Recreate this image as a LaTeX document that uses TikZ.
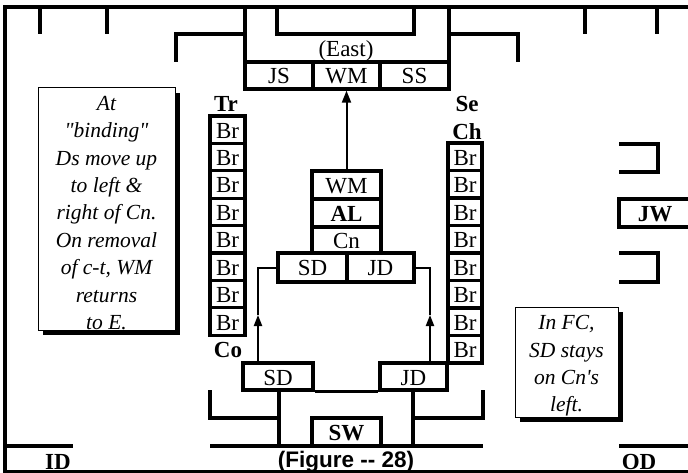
\documentclass[tikz,border=0pt]{standalone}
\usepackage{fontspec}
\setmainfont{Liberation Serif}[Ligatures=TeXOff]
\newfontfamily\arialfont{Liberation Sans}[Ligatures=TeXOff]
\usetikzlibrary{arrows.meta,shadows}
\begin{document}
\begin{tikzpicture}[x=1pt,y=-1pt,
  thickline/.style={line width=3.3pt},
  conn/.style={line width=2pt},
  tip/.style={-{Triangle[length=11pt,width=8pt]}},
  cell/.style={draw, line width=3.3pt, inner sep=0pt, text height=17pt, text depth=0pt,
    font=\fontsize{23}{26}\selectfont},
  boldcell/.style={cell, font=\bfseries\fontsize{23}{26}\selectfont},
  blbl/.style={inner sep=0pt, anchor=base, font=\bfseries\fontsize{23}{26}\selectfont},
  nlbl/.style={inner sep=0pt, anchor=base, font=\fontsize{23}{26}\selectfont},
  notebox/.style={draw, line width=1pt, fill=white,
    general shadow={fill=black, shadow xshift=5pt, shadow yshift=-5pt}},
  notetext/.style={align=center, inner sep=0pt, font=\itshape\fontsize{21.5}{27.4}\selectfont}
]
\useasboundingbox (0,0) rectangle (688,473);
\clip (0,0) rectangle (688,473);

% outer frame
\draw[thickline] (692,7) -- (5,7) -- (5,472) -- (692,472);

% top walls
\foreach \x in {40,107,585,657} \draw[thickline] (\x,7) -- (\x,34);
\draw[thickline] (277,7) -- (277,34) -- (414,34) -- (414,7);
\draw[thickline] (245,7) -- (245,62);
\draw[thickline] (449,7) -- (449,62);
\draw[thickline] (245,34) -- (176,34) -- (176,62);
\draw[thickline] (449,34) -- (518,34) -- (518,62);

% East box
\node[nlbl] (east) at (346,57) {(East)};
\node[cell, minimum width=68pt, minimum height=27pt] (js) at (279,75.5) {JS};
\node[cell, minimum width=67pt, minimum height=27pt] (wmt) at (346.5,75.5) {WM};
\node[cell, minimum width=69pt, minimum height=27pt] (ss) at (414.5,75.5) {SS};

% Br columns
\foreach \i in {1,...,8}
  \node[cell, minimum width=35pt, minimum height=27.4pt] (bl\i) at (227.5,{116+27.4*(\i-0.5)}) {Br};
\foreach \i in {1,...,8}
  \node[cell, minimum width=34pt, minimum height=27.5pt] (br\i) at (465,{143+27.5*(\i-0.5)}) {Br};
\node[blbl] (tr) at (226,112) {Tr};
\node[blbl] (co) at (228,357) {Co};
\node[blbl] (se) at (467,112) {Se};
\node[blbl] (ch) at (467,140) {Ch};

% centre stack
\node[cell, minimum width=69pt, minimum height=28pt] (wm) at (346.5,185) {WM};
\node[boldcell, minimum width=69pt, minimum height=28pt] (al) at (346.5,213) {AL};
\node[cell, minimum width=69pt, minimum height=26pt] (cn) at (346.5,240) {Cn};
\node[cell, minimum width=69pt, minimum height=29pt] (sd) at (312.5,267.5) {SD};
\node[cell, minimum width=67pt, minimum height=29pt] (jd) at (380.5,267.5) {JD};
\draw[conn, -{Triangle[length=12pt,width=9pt]}] (wm.north) -- (wmt.south);

% lower D boxes
\node[cell, minimum width=70pt, minimum height=27pt] (lsd) at (278,376.5) {SD};
\node[cell, minimum width=67pt, minimum height=27pt] (ljd) at (413.5,376.5) {JD};
\coordinate (lx) at (258,315);
\coordinate (rx) at (430,315);
\draw[conn, tip] (lsd.north -| lx) -- (lx);
\draw[conn] (lx) |- (sd.west);
\draw[conn, tip] (ljd.north -| rx) -- (rx);
\draw[conn] (rx) |- (jd.east);

% bottom walls
\draw[thickline] (lsd.south east) -- (ljd.south west);
\draw[thickline] (279,390) -- (279,446);
\draw[thickline] (413,390) -- (413,446);
\draw[thickline] (210,390) -- (210,418) -- (279,418);
\draw[thickline] (413,418) -- (483,418) -- (483,390);
\draw[thickline] (210,446) -- (483,446);
\draw[thickline] (5,446) -- (73,446);
\draw[thickline] (619,446) -- (692,446);
\node[boldcell, minimum width=69pt, minimum height=28pt] (sw) at (346.5,432) {SW};

% right side
\draw[thickline] (619,144) -- (658,144) -- (658,172) -- (619,172);
\draw[thickline] (619,253) -- (658,253) -- (658,282) -- (619,282);
\node[boldcell, minimum width=72pt, minimum height=28pt] (jw) at (655,213) {JW};

% notes
\node[notebox, minimum width=137pt, minimum height=242pt] (lbox) at (106.5,209) {};
\node[notetext] (ltext) at (106.5,213) {At\\"binding"\\Ds move up\\to left \&\\right of Cn.\\On removal\\of c-t, WM\\returns\\to E.};
\node[notebox, minimum width=103pt, minimum height=110pt] (rbox) at (566.5,362) {};
\node[notetext] (rtext) at (566.5,366) {In FC,\\SD stays\\on Cn's\\left.};

% bottom labels
\node[inner sep=0pt, font=\bfseries\fontsize{23}{26}\selectfont] (id) at (58,462) {ID};
\node[inner sep=0pt, font=\arialfont\bfseries\fontsize{22.5}{26}\selectfont] (fig) at (346,462) {(Figure -\kern0pt- 28)};
\node[inner sep=0pt, font=\bfseries\fontsize{23}{26}\selectfont] (od) at (639,462) {OD};
\end{tikzpicture}
\end{document}
